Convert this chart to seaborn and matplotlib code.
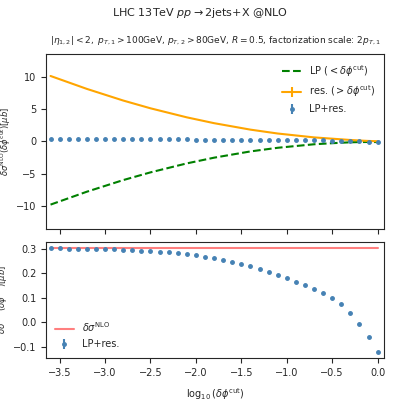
import matplotlib
matplotlib.use("Agg")
import matplotlib.pyplot as plt
import numpy as np
import pandas as pd
import seaborn as sns

sns.set_style("ticks")
plt.rcParams["font.family"] = ["DejaVu Sans"]
plt.rcParams["font.size"] = 7

# log10(delta phi cut)
log_cut = [-3.6, -3.5, -3.4, -3.3, -3.2, -3.1, -3.0, -2.9, -2.8, -2.7, -2.6, -2.5,
           -2.4, -2.3, -2.2, -2.1, -2.0, -1.9, -1.8, -1.7, -1.6, -1.5, -1.4, -1.3,
           -1.2, -1.1, -1.0, -0.9, -0.8, -0.7, -0.6, -0.5, -0.4, -0.3, -0.2, -0.1, 0.0]
# LP+res. total
total = [0.302, 0.302, 0.301, 0.301, 0.301, 0.300, 0.299, 0.298, 0.297, 0.295,
         0.293, 0.291, 0.289, 0.286, 0.283, 0.279, 0.274, 0.268, 0.262, 0.255,
         0.247, 0.238, 0.229, 0.218, 0.206, 0.193, 0.180, 0.166, 0.151, 0.136,
         0.120, 0.101, 0.074, 0.040, -0.005, -0.060, -0.122]
# residual (> cut)
res = [10.1, 9.6, 9.1, 8.6, 8.1, 7.65, 7.2, 6.75, 6.3, 5.9, 5.5, 5.1, 4.75, 4.4,
       4.05, 3.7, 3.4, 3.1, 2.8, 2.55, 2.3, 2.05, 1.8, 1.6, 1.4, 1.2, 1.05, 0.9, 0.75,
       0.6, 0.5, 0.4, 0.3, 0.2, 0.12, 0.05, 0.0]
sigma_nlo = 0.304

df = pd.DataFrame({"x": log_cut, "total": total, "res": res})
df["lp"] = df["total"] - df["res"]

fig, (ax1, ax2) = plt.subplots(2, 1, figsize=(4, 4), dpi=100, sharex=True,
                               gridspec_kw={"height_ratios": [3, 2], "hspace": 0.09})
fig.subplots_adjust(left=0.115, right=0.96, top=0.865, bottom=0.105)

sns.lineplot(data=df, x="x", y="lp", ax=ax1, color="green", linestyle="--",
             label=r"LP ($<\delta\phi^{\rm cut}$)")
ax1.errorbar(df["x"], df["res"], yerr=0.0, color="orange", label=r"res. ($>\delta\phi^{\rm cut}$)")
ax1.errorbar(df["x"], df["total"], yerr=0.0, fmt="o", ms=2.5, color="steelblue", label="LP+res.")
ax1.set_ylim(-13.5, 13.5)
ax1.set_yticks([-10, -5, 0, 5, 10])
ax1.set_ylabel(r"$\delta\sigma^{\rm NLO}(\delta\phi^{\rm cut})[\mu b]$", fontsize=6, labelpad=2)
ax1.set_xlabel("")
ax1.legend(frameon=False, loc="upper right")
ax1.set_title(r"$|\eta_{1,2}|<2,\ p_{T,1}>100$GeV, $p_{T,2}>80$GeV, $R=0.5$, factorization scale: $2p_{T,1}$",
              fontsize=6.5, pad=8)
fig.suptitle(r"LHC 13TeV $pp\to$2jets+X @NLO", fontsize=8, y=0.985)

sns.lineplot(x=df["x"], y=np.full(len(df), sigma_nlo), ax=ax2, color="red", alpha=0.5,
             label=r"$\delta\sigma^{\rm NLO}$")
ax2.errorbar(df["x"], df["total"], yerr=0.0, fmt="o", ms=2.5, color="steelblue", label="LP+res.")
ax2.set_ylim(-0.145, 0.33)
ax2.set_xlim(-3.65, 0.07)
ax2.set_ylabel(r"$\delta\sigma^{\rm NLO}(\delta\phi^{\rm cut})[\mu b]$", fontsize=6, labelpad=2)
ax2.set_xlabel(r"$\log_{10}(\delta\phi^{\rm cut})$", labelpad=6)
ax2.legend(frameon=False, loc="lower left")

fig.savefig("out.png")
